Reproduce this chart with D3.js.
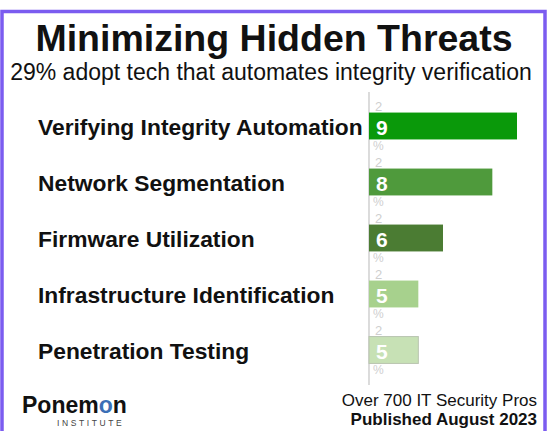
<!DOCTYPE html>
<html>
<head>
<meta charset="utf-8">
<script src="https://cdn.jsdelivr.net/npm/d3@7.9.0/dist/d3.min.js"></script>
<style>
  html, body { margin: 0; padding: 0; background: #fff; }
  svg { display: block; font-family: "Liberation Sans", Arial, sans-serif; }
</style>
</head>
<body>
<svg id="chart" width="547" height="431"></svg>
<script>
const categories = [
  'Verifying Integrity Automation',
  'Network Segmentation',
  'Firmware Utilization',
  'Infrastructure Identification',
  'Penetration Testing'
];
const values = [29, 28, 26, 25, 25];
const barColors = ['#0a990a', '#4f9a3c', '#4b7c33', '#a7d18d', '#c7e1b5'];

const svg = d3.select('#chart');
const W = 547, H = 431;

// frame
svg.append('rect')
  .attr('x', 2).attr('y', 11.5)
  .attr('width', W - 4).attr('height', H)
  .attr('fill', '#fff')
  .attr('stroke', '#7b5cf0')
  .attr('stroke-width', 3.5);

svg.append('text')
  .attr('x', 274).attr('y', 51)
  .attr('text-anchor', 'middle')
  .attr('font-size', 37.5).attr('font-weight', 'bold')
  .attr('fill', '#111')
  .text('Minimizing Hidden Threats');

svg.append('text')
  .attr('x', 271).attr('y', 80)
  .attr('text-anchor', 'middle')
  .attr('font-size', 23)
  .attr('fill', '#111')
  .text('29% adopt tech that automates integrity verification');

const x = d3.scaleLinear().domain([23, 29]).range([369, 517]);
const y = d3.scaleBand().domain(categories).range([98, 378])
  .paddingInner(0.52).paddingOuter(0.26);

// axis line
svg.append('line')
  .attr('x1', x(23)).attr('x2', x(23))
  .attr('y1', 92).attr('y2', 385)
  .attr('stroke', '#c4c4c4').attr('stroke-width', 1.2);

const rows = svg.selectAll('g.row')
  .data(categories)
  .join('g')
  .attr('class', 'row');

rows.append('text')
  .attr('x', 38)
  .attr('y', d => y(d) + y.bandwidth() / 2 + 1)
  .attr('dominant-baseline', 'central')
  .attr('font-size', 22.8).attr('font-weight', 'bold')
  .attr('fill', '#111')
  .text(d => d);

rows.append('rect')
  .attr('x', x(23))
  .attr('y', d => y(d))
  .attr('width', (d, i) => x(values[i]) - x(23))
  .attr('height', y.bandwidth())
  .attr('fill', (d, i) => barColors[i])
  .attr('stroke', (d, i) => i === 4 ? '#b9c4b0' : 'none');

// value labels: tens digit and % faint, units digit in bar
rows.append('text')
  .attr('x', 375)
  .attr('y', d => y(d) - 2)
  .attr('font-size', 13)
  .attr('fill', '#cfcfcf')
  .text((d, i) => String(values[i])[0]);

rows.append('text')
  .attr('x', 376)
  .attr('y', d => y(d) + y.bandwidth() / 2 + 1)
  .attr('dominant-baseline', 'central')
  .attr('font-size', 21).attr('font-weight', 'bold')
  .attr('fill', '#fff')
  .text((d, i) => String(values[i])[1]);

rows.append('text')
  .attr('x', 373)
  .attr('y', d => y(d) + y.bandwidth() + 11)
  .attr('font-size', 12)
  .attr('fill', '#cfcfcf')
  .text('%');

// footer
const logo = svg.append('text')
  .attr('x', 22).attr('y', 413)
  .attr('font-size', 23).attr('font-weight', 'bold')
  .attr('fill', '#111');
logo.append('tspan').text('Ponem');
logo.append('tspan').attr('fill', '#3b6fb6').text('o');
logo.append('tspan').text('n');

svg.append('text')
  .attr('x', 57).attr('y', 426)
  .attr('font-size', 8.5)
  .attr('letter-spacing', 2.6)
  .attr('fill', '#444')
  .text('INSTITUTE');

svg.append('text')
  .attr('x', 537).attr('y', 406)
  .attr('text-anchor', 'end')
  .attr('font-size', 17)
  .attr('fill', '#111')
  .text('Over 700 IT Security Pros');

svg.append('text')
  .attr('x', 537).attr('y', 425)
  .attr('text-anchor', 'end')
  .attr('font-size', 17).attr('font-weight', 'bold')
  .attr('fill', '#111')
  .text('Published August 2023');
</script>
</body>
</html>
